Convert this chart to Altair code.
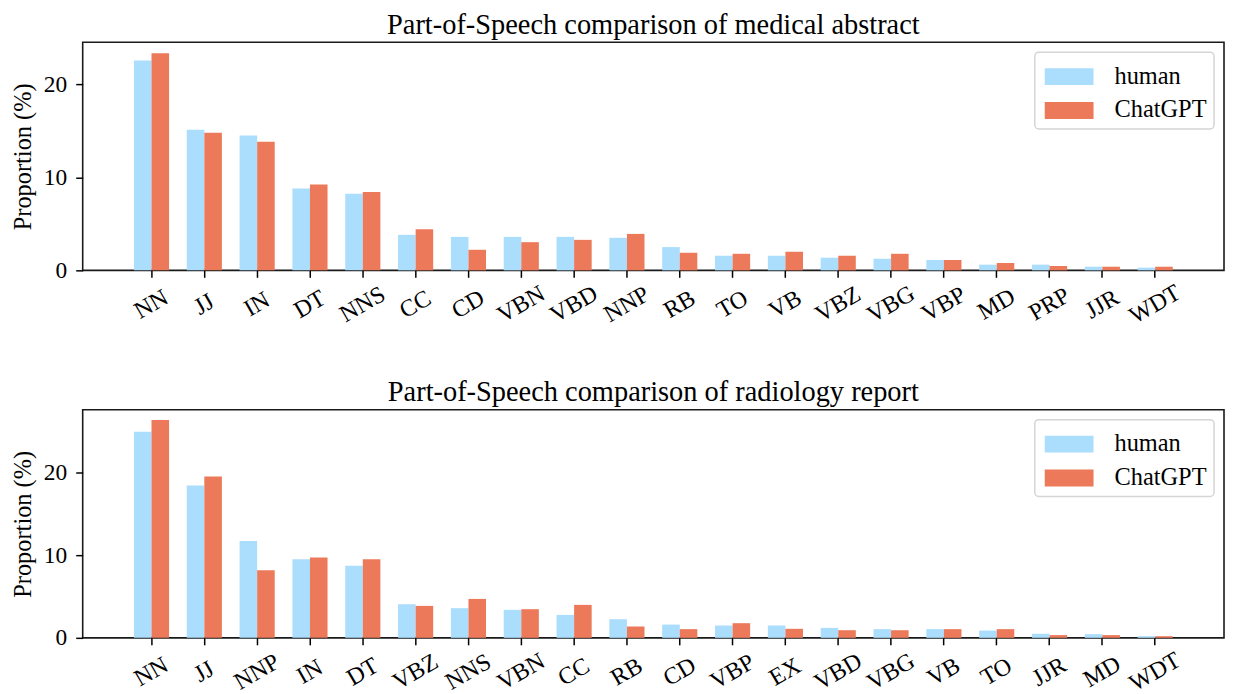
import altair as alt
import pandas as pd

# ---- data ----
series_names = ["human", "ChatGPT"]

abs_tags = ["NN", "JJ", "IN", "DT", "NNS", "CC", "CD", "VBN", "VBD", "NNP",
            "RB", "TO", "VB", "VBZ", "VBG", "VBP", "MD", "PRP", "JJR", "WDT"]
abs_human = [22.57, 15.12, 14.5, 8.8, 8.24, 3.82, 3.6, 3.6, 3.6, 3.5,
             2.5, 1.57, 1.57, 1.36, 1.25, 1.11, 0.61, 0.61, 0.39, 0.29]
abs_chatgpt = [23.36, 14.8, 13.84, 9.24, 8.42, 4.42, 2.21, 3.03, 3.28, 3.92,
               1.89, 1.78, 2.0, 1.57, 1.78, 1.11, 0.79, 0.47, 0.39, 0.39]

rad_tags = ["NN", "JJ", "NNP", "IN", "DT", "VBZ", "NNS", "VBN", "CC", "RB",
            "CD", "VBP", "EX", "VBD", "VBG", "VB", "TO", "JJR", "MD", "WDT"]
rad_human = [24.9, 18.4, 11.7, 9.5, 8.7, 4.06, 3.58, 3.38, 2.77, 2.25,
             1.6, 1.49, 1.49, 1.2, 1.05, 1.05, 0.88, 0.49, 0.44, 0.2]
rad_chatgpt = [26.3, 19.5, 8.15, 9.7, 9.5, 3.86, 4.7, 3.46, 3.98, 1.37,
               1.05, 1.77, 1.09, 0.92, 0.92, 1.05, 1.05, 0.33, 0.33, 0.2]

titles = ["Part-of-Speech comparison of medical abstract",
          "Part-of-Speech comparison of radiology report"]
y_max = [24.53, 27.55]
y_ticks = [0, 10, 20]

colors = ["#ABDDFC", "#EC7A5A"]
FONT = "Liberation Serif"


def make_df(tags, human, chatgpt):
    rows = []
    for t, h, c in zip(tags, human, chatgpt):
        rows.append({"tag": t, "source": "human", "value": h})
        rows.append({"tag": t, "source": "ChatGPT", "value": c})
    return pd.DataFrame(rows)


def panel(tags, human, chatgpt, title, ymax):
    df = make_df(tags, human, chatgpt)
    return (
        alt.Chart(df)
        .mark_bar()
        .encode(
            x=alt.X(
                "tag:N",
                sort=tags,
                scale=alt.Scale(paddingInner=0.335, paddingOuter=0.97),
                axis=alt.Axis(
                    title=None,
                    labelAngle=-30,
                    labelAlign="center",
                    labelBaseline="middle",
                    labelPadding=27,
                    labelFontSize=24,
                    tickSize=7,
                    tickWidth=1.5,
                    tickColor="black",
                    domain=False,
                    grid=False,
                ),
            ),
            xOffset=alt.XOffset("source:N", sort=series_names,
                                scale=alt.Scale(paddingInner=0, paddingOuter=0)),
            y=alt.Y(
                "value:Q",
                scale=alt.Scale(domain=[0, ymax], nice=False, zero=True),
                axis=alt.Axis(
                    title="Proportion (%)",
                    values=y_ticks,
                    labelFontSize=23.5,
                    titleFontSize=24.5,
                    titleFontWeight="normal",
                    titlePadding=8,
                    labelPadding=9,
                    tickSize=7,
                    tickWidth=1.5,
                    tickColor="black",
                    domain=False,
                    grid=False,
                ),
            ),
            color=alt.Color(
                "source:N",
                sort=series_names,
                scale=alt.Scale(domain=series_names, range=colors),
                legend=alt.Legend(
                    title=None,
                    orient="top-right",
                    offset=10,
                    padding=7,
                    symbolType="M-1.4,-0.486L1.4,-0.486L1.4,0.486L-1.4,0.486Z",
                    symbolSize=1225,
                    symbolOffset=10,
                    symbolStrokeWidth=0,
                    labelFontSize=24.5,
                    labelOffset=28,
                    rowPadding=5,
                    strokeColor="#d5d5d5",
                    cornerRadius=4,
                    fillColor="white",
                ),
            ),
        )
        .properties(
            width=1146,
            height=229,
            title=alt.TitleParams(title, fontSize=28.5, fontWeight="normal",
                                  anchor="middle", offset=3, color="black"),
        )
    )


top = panel(abs_tags, abs_human, abs_chatgpt, titles[0], y_max[0])
bottom = panel(rad_tags, rad_human, rad_chatgpt, titles[1], y_max[1])

chart = (
    alt.vconcat(top, bottom, spacing=48)
    .resolve_scale(color="independent")
    .resolve_legend(color="independent")
    .properties(padding={"left": 1, "top": 0, "right": 0, "bottom": 0})
    .configure(font=FONT)
    .configure_view(stroke="#1a1a1a", strokeWidth=1.6)
    .configure_axis(labelColor="black", titleColor="black", labelFont=FONT, titleFont=FONT)
    .configure_legend(labelColor="black", labelFont=FONT, strokeWidth=1.5)
    .configure_title(font=FONT)
)

chart.save("out.html", embed_options={"renderer": "svg", "actions": False})
